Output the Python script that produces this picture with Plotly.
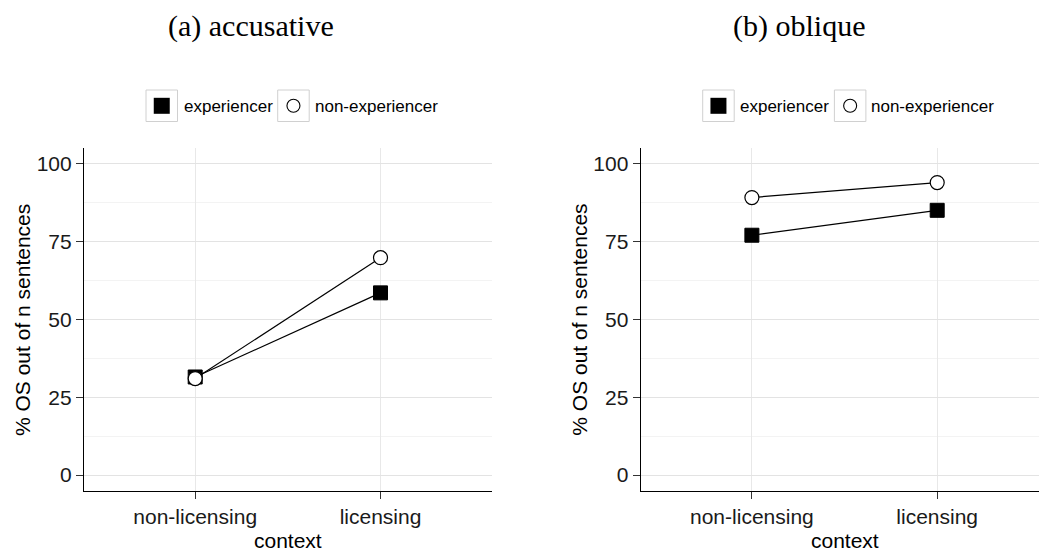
import plotly.graph_objects as go

W, H = 1039, 556

# ---- data ----
contexts = ["non-licensing", "licensing"]
panel_titles = ["(a) accusative", "(b) oblique"]
series_names = ["experiencer", "non-experiencer"]
acc_experiencer = [31.5, 58.5]
acc_non_experiencer = [31.0, 69.8]
obl_experiencer = [77.0, 85.0]
obl_non_experiencer = [89.1, 93.9]
y_ticks = [0, 25, 50, 75, 100]
y_label = "% OS out of n sentences"
x_label = "context"

def px(x):
    return x / W

def py(y):
    return 1 - y / H

fig = go.Figure()

SANS = "Liberation Sans, Arial, sans-serif"
SERIF = "Liberation Serif, Times New Roman, serif"

styles = {
    "experiencer": dict(symbol="square", size=14, color="black",
                        line=dict(color="black", width=1)),
    "non-experiencer": dict(symbol="circle", size=14, color="white",
                            line=dict(color="black", width=1.2)),
}

panels = [
    ("x", "y", [acc_experiencer, acc_non_experiencer]),
    ("x2", "y2", [obl_experiencer, obl_non_experiencer]),
]
for xa, ya, vals in panels:
    for name, v in zip(series_names, vals):
        fig.add_trace(go.Scatter(
            x=contexts, y=v, mode="lines+markers", name=name,
            xaxis=xa, yaxis=ya, showlegend=False,
            line=dict(color="black", width=1.2),
            marker=styles[name],
            cliponaxis=False,
        ))

y_dom = [py(490.7), py(148)]
x_doms = [[px(84), px(491.7)], [px(640.7), 1.0]]
x_ranges = [[-0.6, 1.6], [-0.6, 1.6 - (1048.4 - 1039) / 185.5]]

axis_common = dict(
    showline=True, linecolor="black", linewidth=1.1,
    ticks="outside", ticklen=7, tickcolor="#333333", tickwidth=1,
    tickfont=dict(family=SANS, size=21, color="#1a1a1a"),
    zeroline=False, mirror=False,
)

for i, (xd, xr) in enumerate(zip(x_doms, x_ranges)):
    sfx = "" if i == 0 else str(i + 1)
    fig.update_layout({
        f"xaxis{sfx}": dict(
            domain=xd, range=xr, type="category",
            categoryorder="array", categoryarray=contexts,
            showgrid=True, gridcolor="#e8e8e8", gridwidth=1,
            anchor=f"y{sfx}", **axis_common),
        f"yaxis{sfx}": dict(
            domain=y_dom, range=[-5, 105], tickvals=y_ticks,
            showgrid=True, gridcolor="#e3e3e3", gridwidth=1,
            minor=dict(dtick=12.5, tick0=0, showgrid=True,
                       gridcolor="#f3f3f3", gridwidth=1, ticks=""),
            anchor=f"x{sfx}", **axis_common),
    })

annotations = []
shapes = []
offsets = [0, 556.7]
title_cx = [250.8, 798.7]
for i, off in enumerate(offsets):
    # panel title
    annotations.append(dict(
        text=panel_titles[i], x=px(title_cx[i]), y=py(26), xref="paper", yref="paper",
        xanchor="center", yanchor="middle", showarrow=False,
        font=dict(family=SERIF, size=30, color="black")))
    # axis titles
    annotations.append(dict(
        text=y_label, x=px(22 + off), y=py(320), xref="paper", yref="paper",
        xanchor="center", yanchor="middle", showarrow=False, textangle=-90,
        font=dict(family=SANS, size=21, color="black")))
    annotations.append(dict(
        text=x_label, x=px(288 + off), y=py(540), xref="paper", yref="paper",
        xanchor="center", yanchor="middle", showarrow=False,
        font=dict(family=SANS, size=21, color="black")))
    # legend
    box_x = [146 + off, 277.7 + off]
    text_x = [181.7 + off, 312.7 + off]
    for j, name in enumerate(series_names):
        x0 = box_x[j]
        shapes.append(dict(type="rect", xref="paper", yref="paper",
                           x0=px(x0), x1=px(x0 + 31.5), y0=py(90), y1=py(121.5),
                           line=dict(color="#d0d0d0", width=1), fillcolor="white"))
        cx, cy = x0 + 15.75, 105.8
        if name == "experiencer":
            shapes.append(dict(type="rect", xref="paper", yref="paper",
                               x0=px(cx - 8), x1=px(cx + 8), y0=py(cy - 8), y1=py(cy + 8),
                               line=dict(color="black", width=0), fillcolor="black"))
        else:
            shapes.append(dict(type="circle", xref="paper", yref="paper",
                               x0=px(cx - 6.5), x1=px(cx + 6.5), y0=py(cy - 6.5), y1=py(cy + 6.5),
                               line=dict(color="black", width=1.1), fillcolor="white"))
        annotations.append(dict(
            text=name, x=px(text_x[j]), y=py(106), xref="paper", yref="paper",
            xanchor="left", yanchor="middle", showarrow=False,
            font=dict(family=SANS, size=17, color="black")))

fig.update_layout(
    width=W, height=H, margin=dict(l=0, r=0, t=0, b=0),
    paper_bgcolor="white", plot_bgcolor="white",
    annotations=annotations, shapes=shapes, showlegend=False,
)

fig.write_html(
    "out.html",
    config={"displayModeBar": False, "staticPlot": True},
    post_script="document.body.style.margin='0';document.body.style.overflow='hidden';",
)
